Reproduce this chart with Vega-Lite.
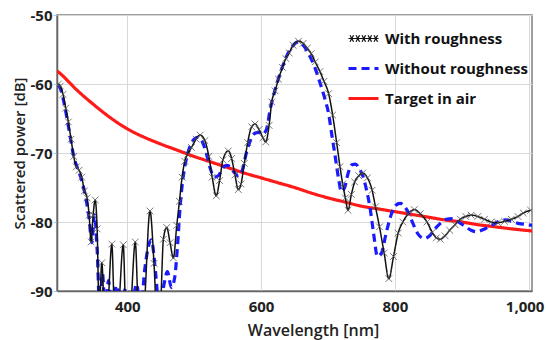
{
  "$schema": "https://vega.github.io/schema/vega-lite/v6.json",
  "width": 475,
  "height": 276,
  "autosize": {"type": "none"},
  "padding": {"left": 57, "top": 15, "right": 14, "bottom": 49},
  "background": "white",
  "config": {
    "font": "Open Sans",
    "view": {"stroke": "#808080", "strokeWidth": 1.5},
    "axis": {
      "labelFont": "Open Sans",
      "labelFontWeight": "bold",
      "labelFontSize": 15,
      "labelColor": "#222222",
      "titleFont": "Open Sans",
      "titleFontWeight": 600,
      "titleFontSize": 15,
      "titleColor": "#222222",
      "gridColor": "#d9d9d9",
      "gridWidth": 1,
      "domainColor": "#666666",
      "domainWidth": 1.5
    }
  },
  "datasets": {
    "target": [
      {"wl": 295, "db": -58.1}, {"wl": 300, "db": -58.5}, {"wl": 325, "db": -60.9}, {"wl": 350, "db": -63.0},
      {"wl": 375, "db": -64.9}, {"wl": 400, "db": -66.5}, {"wl": 425, "db": -67.7}, {"wl": 450, "db": -68.7},
      {"wl": 475, "db": -69.6}, {"wl": 500, "db": -70.5}, {"wl": 525, "db": -71.3}, {"wl": 550, "db": -72.1},
      {"wl": 575, "db": -72.9}, {"wl": 600, "db": -73.6}, {"wl": 625, "db": -74.3}, {"wl": 650, "db": -75.0},
      {"wl": 675, "db": -75.8}, {"wl": 700, "db": -76.5}, {"wl": 725, "db": -77.1}, {"wl": 750, "db": -77.7},
      {"wl": 775, "db": -78.1}, {"wl": 800, "db": -78.5}, {"wl": 825, "db": -78.9}, {"wl": 850, "db": -79.3},
      {"wl": 875, "db": -79.7}, {"wl": 900, "db": -80.0}, {"wl": 925, "db": -80.4}, {"wl": 950, "db": -80.7},
      {"wl": 975, "db": -81.0}, {"wl": 1005, "db": -81.3}
    ],
    "without": [
      {"wl": 297, "db": -60.2}, {"wl": 300, "db": -60.6}, {"wl": 305, "db": -62.5}, {"wl": 310, "db": -65}, {"wl": 315, "db": -67.8},
      {"wl": 320, "db": -70.5}, {"wl": 326, "db": -72.3}, {"wl": 332, "db": -74}, {"wl": 338, "db": -76.5},
      {"wl": 343, "db": -79.5}, {"wl": 347, "db": -83}, {"wl": 351, "db": -79}, {"wl": 355, "db": -84},
      {"wl": 359, "db": -93}, {"wl": 363, "db": -87.5}, {"wl": 367, "db": -93}, {"wl": 372, "db": -88.5},
      {"wl": 377, "db": -93}, {"wl": 384, "db": -89.2}, {"wl": 390, "db": -93}, {"wl": 398, "db": -89.5},
      {"wl": 405, "db": -93}, {"wl": 414, "db": -89}, {"wl": 420, "db": -93}, {"wl": 426, "db": -87},
      {"wl": 436, "db": -82.6}, {"wl": 443, "db": -88}, {"wl": 448, "db": -93}, {"wl": 455, "db": -89},
      {"wl": 460, "db": -87.2}, {"wl": 466, "db": -89.5}, {"wl": 471, "db": -88}, {"wl": 475, "db": -83.6},
      {"wl": 479, "db": -77.8}, {"wl": 483, "db": -73.9}, {"wl": 488, "db": -71}, {"wl": 494, "db": -69},
      {"wl": 500, "db": -68}, {"wl": 506, "db": -67.7}, {"wl": 512, "db": -68.3}, {"wl": 518, "db": -70},
      {"wl": 524, "db": -72.2}, {"wl": 530, "db": -73.5}, {"wl": 536, "db": -73.3}, {"wl": 542, "db": -72.3},
      {"wl": 548, "db": -71.8}, {"wl": 554, "db": -72}, {"wl": 560, "db": -72.8}, {"wl": 566, "db": -73.3},
      {"wl": 572, "db": -72.5}, {"wl": 578, "db": -70}, {"wl": 584, "db": -68.2}, {"wl": 590, "db": -67.2},
      {"wl": 596, "db": -67}, {"wl": 602, "db": -67.3}, {"wl": 608, "db": -66.6}, {"wl": 614, "db": -63.5},
      {"wl": 620, "db": -61.2}, {"wl": 626, "db": -59.2}, {"wl": 632, "db": -57.5}, {"wl": 640, "db": -55.6},
      {"wl": 648, "db": -54.4}, {"wl": 656, "db": -53.9}, {"wl": 664, "db": -54.5}, {"wl": 672, "db": -55.8},
      {"wl": 680, "db": -57.5}, {"wl": 688, "db": -59.8}, {"wl": 695, "db": -62}, {"wl": 701, "db": -64.3},
      {"wl": 706, "db": -67.5}, {"wl": 711, "db": -70.6}, {"wl": 716, "db": -73.8}, {"wl": 720, "db": -75.6},
      {"wl": 725, "db": -75}, {"wl": 730, "db": -73}, {"wl": 736, "db": -71.7}, {"wl": 741, "db": -71.6},
      {"wl": 747, "db": -72.3}, {"wl": 752, "db": -73.3}, {"wl": 758, "db": -75.5}, {"wl": 763, "db": -78},
      {"wl": 768, "db": -81.5}, {"wl": 774, "db": -85}, {"wl": 780, "db": -84.5}, {"wl": 787, "db": -81.6},
      {"wl": 795, "db": -78.8}, {"wl": 801, "db": -77.6}, {"wl": 808, "db": -77.3}, {"wl": 815, "db": -77.8},
      {"wl": 821, "db": -78.8}, {"wl": 827, "db": -80.2}, {"wl": 835, "db": -81.8}, {"wl": 844, "db": -82.4},
      {"wl": 852, "db": -82}, {"wl": 860, "db": -81}, {"wl": 868, "db": -80.2}, {"wl": 877, "db": -79.6},
      {"wl": 886, "db": -79.5}, {"wl": 895, "db": -80}, {"wl": 906, "db": -80.7}, {"wl": 914, "db": -81.2},
      {"wl": 922, "db": -81.4}, {"wl": 932, "db": -81.1}, {"wl": 940, "db": -80.7}, {"wl": 948, "db": -80.3},
      {"wl": 958, "db": -79.8}, {"wl": 966, "db": -79.7}, {"wl": 975, "db": -79.9}, {"wl": 984, "db": -80.2},
      {"wl": 992, "db": -80.3}, {"wl": 1005, "db": -80.5}
    ],
    "with": [
      {"wl": 297, "db": -60.0}, {"wl": 300, "db": -60.3}, {"wl": 304, "db": -61.5}, {"wl": 308, "db": -63.5}, {"wl": 312, "db": -65.5},
      {"wl": 316, "db": -68}, {"wl": 320, "db": -70.5}, {"wl": 324, "db": -72}, {"wl": 328, "db": -72.5},
      {"wl": 332, "db": -73.5}, {"wl": 336, "db": -75.5}, {"wl": 340, "db": -76.5}, {"wl": 343, "db": -79},
      {"wl": 346, "db": -82.9}, {"wl": 349, "db": -79}, {"wl": 352, "db": -76.8}, {"wl": 355, "db": -81},
      {"wl": 358, "db": -93}, {"wl": 362, "db": -85.9}, {"wl": 366, "db": -93}, {"wl": 370, "db": -93},
      {"wl": 377, "db": -83.2}, {"wl": 381, "db": -93}, {"wl": 386, "db": -93}, {"wl": 394, "db": -83.3},
      {"wl": 398, "db": -93}, {"wl": 404, "db": -93}, {"wl": 412, "db": -82.9}, {"wl": 417, "db": -93},
      {"wl": 424, "db": -93}, {"wl": 434, "db": -78.4}, {"wl": 440, "db": -86}, {"wl": 444, "db": -93},
      {"wl": 449, "db": -93}, {"wl": 454, "db": -82.5}, {"wl": 459, "db": -80.8}, {"wl": 464, "db": -83},
      {"wl": 469, "db": -85.2}, {"wl": 474, "db": -80.5}, {"wl": 478, "db": -77}, {"wl": 482, "db": -73.5},
      {"wl": 486, "db": -71.2}, {"wl": 490, "db": -70.2}, {"wl": 496, "db": -69.2}, {"wl": 503, "db": -68},
      {"wl": 509, "db": -67.4}, {"wl": 516, "db": -68.2}, {"wl": 522, "db": -70.5}, {"wl": 527, "db": -73.5},
      {"wl": 533, "db": -76.2}, {"wl": 538, "db": -74}, {"wl": 543, "db": -71}, {"wl": 551, "db": -69.7},
      {"wl": 556, "db": -70.8}, {"wl": 561, "db": -73.2}, {"wl": 566, "db": -75.3}, {"wl": 570, "db": -74.5},
      {"wl": 575, "db": -71.5}, {"wl": 580, "db": -68.5}, {"wl": 586, "db": -66.2}, {"wl": 591, "db": -65.8},
      {"wl": 597, "db": -66.6}, {"wl": 603, "db": -67.8}, {"wl": 607, "db": -68.4}, {"wl": 612, "db": -66},
      {"wl": 616, "db": -62.6}, {"wl": 621, "db": -61}, {"wl": 626, "db": -59.3}, {"wl": 632, "db": -57.6},
      {"wl": 637, "db": -56.3}, {"wl": 642, "db": -55.5}, {"wl": 648, "db": -54.4}, {"wl": 656, "db": -53.8},
      {"wl": 663, "db": -54.1}, {"wl": 669, "db": -54.8}, {"wl": 675, "db": -55.6}, {"wl": 681, "db": -56.8},
      {"wl": 688, "db": -58.2}, {"wl": 694, "db": -59.6}, {"wl": 701, "db": -61.4}, {"wl": 707, "db": -64.5},
      {"wl": 713, "db": -68.5}, {"wl": 718, "db": -72}, {"wl": 722, "db": -74.5}, {"wl": 726, "db": -76.5},
      {"wl": 730, "db": -78.3}, {"wl": 735, "db": -76}, {"wl": 740, "db": -74.2}, {"wl": 746, "db": -73.3},
      {"wl": 752, "db": -72.9}, {"wl": 759, "db": -73.6}, {"wl": 766, "db": -75.4}, {"wl": 771, "db": -77.8},
      {"wl": 777, "db": -80.7}, {"wl": 784, "db": -84.5}, {"wl": 791, "db": -88.2}, {"wl": 798, "db": -85},
      {"wl": 805, "db": -81.6}, {"wl": 812, "db": -80}, {"wl": 820, "db": -78.8}, {"wl": 829, "db": -78.2},
      {"wl": 838, "db": -78.8}, {"wl": 848, "db": -80}, {"wl": 856, "db": -81.5}, {"wl": 862, "db": -82.3},
      {"wl": 868, "db": -82.5}, {"wl": 875, "db": -82}, {"wl": 882, "db": -81.2}, {"wl": 890, "db": -80.4},
      {"wl": 898, "db": -79.6}, {"wl": 906, "db": -79.2}, {"wl": 914, "db": -79}, {"wl": 924, "db": -79.2},
      {"wl": 934, "db": -79.6}, {"wl": 944, "db": -80}, {"wl": 954, "db": -80.1}, {"wl": 964, "db": -79.9},
      {"wl": 974, "db": -79.6}, {"wl": 984, "db": -79.2}, {"wl": 992, "db": -78.7}, {"wl": 1003, "db": -78.3}
    ]
  },
  "encoding": {
    "x": {
      "field": "wl",
      "type": "quantitative",
      "scale": {"domain": [295, 1005], "nice": false, "zero": false},
      "axis": {
        "values": [400, 600, 800, 1000],
        "format": ",.0f",
        "title": "Wavelength [nm]",
        "titleFontSize": 16,
        "ticks": false,
        "labelPadding": 8,
        "labelOffset": {"condition": {"test": "datum.value === 1000", "value": -4}, "value": 0},
        "titleX": 256,
        "titleY": 39,
        "titleBaseline": "middle"
      }
    },
    "y": {
      "field": "db",
      "type": "quantitative",
      "scale": {"domain": [-90, -50], "nice": false, "zero": false},
      "axis": {
        "values": [-90, -80, -70, -60, -50],
        "labelExpr": "'-' + abs(datum.value)",
        "title": "Scattered power [dB]",
        "tickColor": "#a6c8ec",
        "tickSize": 4,
        "labelPadding": 1,
        "titleX": -38,
        "titleY": 138,
        "titleAngle": -90,
        "titleAlign": "center",
        "titleBaseline": "middle"
      }
    }
  },
  "layer": [
    {
      "data": {"name": "target"},
      "mark": {"type": "line", "strokeWidth": 3.2, "interpolate": "monotone", "clip": true},
      "encoding": {
        "color": {
          "datum": "Target in air",
          "scale": {
            "domain": ["With roughness", "Without roughness", "Target in air"],
            "range": ["#111111", "#1a1aff", "#ff1a1a"]
          },
          "legend": {
            "title": null,
            "orient": "none",
            "legendX": 299,
            "legendY": 16,
            "padding": 0,
            "symbolType": "stroke",
            "symbolSize": 900,
            "symbolStrokeWidth": 3.2,
            "rowPadding": 14,
            "labelOffset": 14,
            "labelFont": "Open Sans",
            "labelFontSize": 15,
            "labelFontWeight": "bold",
            "labelColor": "#111111",
            "encode": {
              "symbols": {
                "update": {
                  "shape": {"signal": "datum.value === 'With roughness' ? 'M-1,0L1,0M-0.9,-0.22L-0.66,0.22M-0.9,0.22L-0.66,-0.22M-0.5,-0.22L-0.26,0.22M-0.5,0.22L-0.26,-0.22M-0.1,-0.22L0.14,0.22M-0.1,0.22L0.14,-0.22M0.3,-0.22L0.54,0.22M0.3,0.22L0.54,-0.22M0.7,-0.22L0.94,0.22M0.7,0.22L0.94,-0.22' : 'stroke'"},
                  "strokeWidth": {"signal": "datum.value === 'With roughness' ? 1.2 : 3.2"}
                }
              }
            }
          }
        },
        "strokeDash": {
          "datum": "Target in air",
          "scale": {
            "domain": ["With roughness", "Without roughness", "Target in air"],
            "range": [[1, 0], [8, 5], [1, 0]]
          }
        }
      }
    },
    {
      "data": {"name": "without"},
      "mark": {"type": "line", "strokeWidth": 3.2, "interpolate": "monotone", "clip": true},
      "encoding": {
        "color": {"datum": "Without roughness"},
        "strokeDash": {"datum": "Without roughness"}
      }
    },
    {
      "data": {"name": "with"},
      "mark": {"type": "line", "strokeWidth": 1.5, "interpolate": "monotone", "clip": true},
      "encoding": {
        "color": {"datum": "With roughness"},
        "strokeDash": {"datum": "With roughness"}
      }
    },
    {
      "data": {"name": "with"},
      "mark": {
        "type": "point",
        "shape": "M-1,-1L1,1M-1,1L1,-1",
        "filled": false,
        "stroke": "#555555",
        "strokeWidth": 0.8,
        "size": 45,
        "opacity": 1,
        "clip": true
      }
    }
  ]
}
